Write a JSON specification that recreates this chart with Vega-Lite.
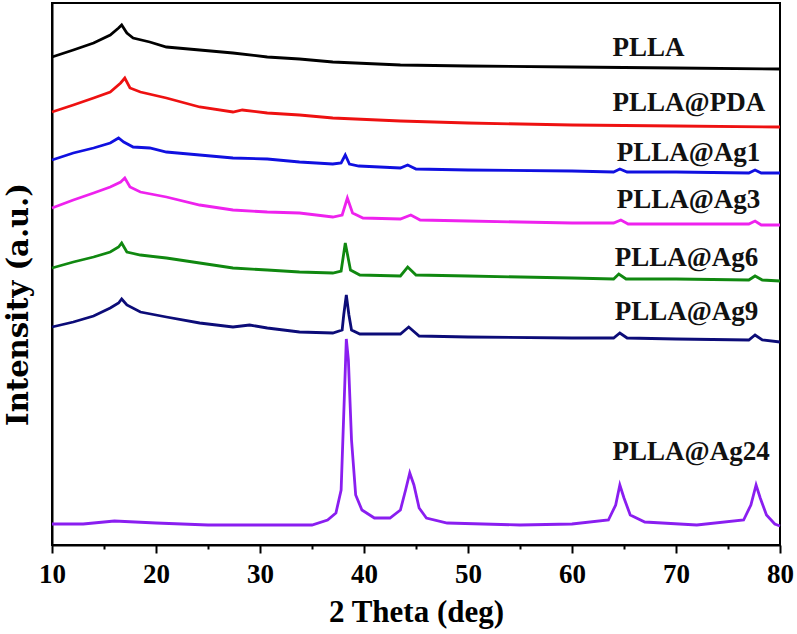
{
  "$schema": "https://vega.github.io/schema/vega-lite/v6.json",
  "width": 728,
  "height": 542,
  "autosize": {"type": "none"},
  "padding": {"left": 52, "top": 3, "right": 17, "bottom": 89},
  "config": {
    "view": {"stroke": "black", "strokeWidth": 2},
    "font": "Liberation Serif",
    "axis": {"grid": false}
  },
  "datasets": {
    "xrd": [
      {"sample": "PLLA", "theta": 10, "intensity": 488},
      {"sample": "PLLA", "theta": 12.05, "intensity": 495},
      {"sample": "PLLA", "theta": 14, "intensity": 502},
      {"sample": "PLLA", "theta": 15.6, "intensity": 510},
      {"sample": "PLLA", "theta": 16.4, "intensity": 517},
      {"sample": "PLLA", "theta": 16.7, "intensity": 520},
      {"sample": "PLLA", "theta": 17.2, "intensity": 512},
      {"sample": "PLLA", "theta": 17.8, "intensity": 507},
      {"sample": "PLLA", "theta": 19.4, "intensity": 503},
      {"sample": "PLLA", "theta": 21, "intensity": 498},
      {"sample": "PLLA", "theta": 24.2, "intensity": 495},
      {"sample": "PLLA", "theta": 27.4, "intensity": 492},
      {"sample": "PLLA", "theta": 30.7, "intensity": 488},
      {"sample": "PLLA", "theta": 33.8, "intensity": 486},
      {"sample": "PLLA", "theta": 37, "intensity": 483},
      {"sample": "PLLA", "theta": 43.5, "intensity": 480},
      {"sample": "PLLA", "theta": 50, "intensity": 479},
      {"sample": "PLLA", "theta": 60, "intensity": 478},
      {"sample": "PLLA", "theta": 70, "intensity": 477},
      {"sample": "PLLA", "theta": 80, "intensity": 476},

      {"sample": "PLLA@PDA", "theta": 10, "intensity": 433},
      {"sample": "PLLA@PDA", "theta": 12.05, "intensity": 440},
      {"sample": "PLLA@PDA", "theta": 14, "intensity": 447},
      {"sample": "PLLA@PDA", "theta": 15.6, "intensity": 453},
      {"sample": "PLLA@PDA", "theta": 16.6, "intensity": 462},
      {"sample": "PLLA@PDA", "theta": 17, "intensity": 467},
      {"sample": "PLLA@PDA", "theta": 17.5, "intensity": 457},
      {"sample": "PLLA@PDA", "theta": 18.5, "intensity": 453},
      {"sample": "PLLA@PDA", "theta": 21, "intensity": 447},
      {"sample": "PLLA@PDA", "theta": 24.2, "intensity": 438},
      {"sample": "PLLA@PDA", "theta": 27.4, "intensity": 433},
      {"sample": "PLLA@PDA", "theta": 28.3, "intensity": 435},
      {"sample": "PLLA@PDA", "theta": 30.7, "intensity": 432},
      {"sample": "PLLA@PDA", "theta": 33.8, "intensity": 430},
      {"sample": "PLLA@PDA", "theta": 37, "intensity": 427},
      {"sample": "PLLA@PDA", "theta": 43.5, "intensity": 424},
      {"sample": "PLLA@PDA", "theta": 50, "intensity": 422},
      {"sample": "PLLA@PDA", "theta": 60, "intensity": 420},
      {"sample": "PLLA@PDA", "theta": 70, "intensity": 419},
      {"sample": "PLLA@PDA", "theta": 80, "intensity": 418},

      {"sample": "PLLA@Ag1", "theta": 10, "intensity": 385},
      {"sample": "PLLA@Ag1", "theta": 12.05, "intensity": 392},
      {"sample": "PLLA@Ag1", "theta": 14, "intensity": 397},
      {"sample": "PLLA@Ag1", "theta": 15.6, "intensity": 402},
      {"sample": "PLLA@Ag1", "theta": 16.4, "intensity": 407},
      {"sample": "PLLA@Ag1", "theta": 16.9, "intensity": 403},
      {"sample": "PLLA@Ag1", "theta": 17.8, "intensity": 398},
      {"sample": "PLLA@Ag1", "theta": 19.4, "intensity": 397},
      {"sample": "PLLA@Ag1", "theta": 21, "intensity": 393},
      {"sample": "PLLA@Ag1", "theta": 24.2, "intensity": 390},
      {"sample": "PLLA@Ag1", "theta": 27.4, "intensity": 387},
      {"sample": "PLLA@Ag1", "theta": 30.7, "intensity": 386},
      {"sample": "PLLA@Ag1", "theta": 33.8, "intensity": 383},
      {"sample": "PLLA@Ag1", "theta": 37, "intensity": 381},
      {"sample": "PLLA@Ag1", "theta": 37.8, "intensity": 382},
      {"sample": "PLLA@Ag1", "theta": 38.2, "intensity": 390},
      {"sample": "PLLA@Ag1", "theta": 38.6, "intensity": 381},
      {"sample": "PLLA@Ag1", "theta": 39.5, "intensity": 379},
      {"sample": "PLLA@Ag1", "theta": 43.5, "intensity": 377},
      {"sample": "PLLA@Ag1", "theta": 44.2, "intensity": 380},
      {"sample": "PLLA@Ag1", "theta": 45, "intensity": 376},
      {"sample": "PLLA@Ag1", "theta": 50, "intensity": 375},
      {"sample": "PLLA@Ag1", "theta": 60, "intensity": 374},
      {"sample": "PLLA@Ag1", "theta": 64, "intensity": 373},
      {"sample": "PLLA@Ag1", "theta": 64.6, "intensity": 376},
      {"sample": "PLLA@Ag1", "theta": 65.3, "intensity": 373},
      {"sample": "PLLA@Ag1", "theta": 70, "intensity": 373},
      {"sample": "PLLA@Ag1", "theta": 77, "intensity": 372},
      {"sample": "PLLA@Ag1", "theta": 77.6, "intensity": 375},
      {"sample": "PLLA@Ag1", "theta": 78.2, "intensity": 372},
      {"sample": "PLLA@Ag1", "theta": 80, "intensity": 372},

      {"sample": "PLLA@Ag3", "theta": 10, "intensity": 337},
      {"sample": "PLLA@Ag3", "theta": 12.05, "intensity": 345},
      {"sample": "PLLA@Ag3", "theta": 14, "intensity": 352},
      {"sample": "PLLA@Ag3", "theta": 15.6, "intensity": 358},
      {"sample": "PLLA@Ag3", "theta": 16.6, "intensity": 363},
      {"sample": "PLLA@Ag3", "theta": 17, "intensity": 367},
      {"sample": "PLLA@Ag3", "theta": 17.5, "intensity": 358},
      {"sample": "PLLA@Ag3", "theta": 18.5, "intensity": 353},
      {"sample": "PLLA@Ag3", "theta": 21, "intensity": 348},
      {"sample": "PLLA@Ag3", "theta": 24.2, "intensity": 340},
      {"sample": "PLLA@Ag3", "theta": 27.4, "intensity": 335},
      {"sample": "PLLA@Ag3", "theta": 30.7, "intensity": 333},
      {"sample": "PLLA@Ag3", "theta": 33.8, "intensity": 332},
      {"sample": "PLLA@Ag3", "theta": 37, "intensity": 328},
      {"sample": "PLLA@Ag3", "theta": 37.9, "intensity": 330},
      {"sample": "PLLA@Ag3", "theta": 38.4, "intensity": 347},
      {"sample": "PLLA@Ag3", "theta": 38.9, "intensity": 332},
      {"sample": "PLLA@Ag3", "theta": 39.9, "intensity": 327},
      {"sample": "PLLA@Ag3", "theta": 43.5, "intensity": 326},
      {"sample": "PLLA@Ag3", "theta": 44.5, "intensity": 330},
      {"sample": "PLLA@Ag3", "theta": 45.4, "intensity": 325},
      {"sample": "PLLA@Ag3", "theta": 50, "intensity": 324},
      {"sample": "PLLA@Ag3", "theta": 55, "intensity": 323},
      {"sample": "PLLA@Ag3", "theta": 60, "intensity": 322},
      {"sample": "PLLA@Ag3", "theta": 64, "intensity": 322},
      {"sample": "PLLA@Ag3", "theta": 64.7, "intensity": 325},
      {"sample": "PLLA@Ag3", "theta": 65.4, "intensity": 321},
      {"sample": "PLLA@Ag3", "theta": 70, "intensity": 321},
      {"sample": "PLLA@Ag3", "theta": 77, "intensity": 321},
      {"sample": "PLLA@Ag3", "theta": 77.6, "intensity": 324},
      {"sample": "PLLA@Ag3", "theta": 78.2, "intensity": 320},
      {"sample": "PLLA@Ag3", "theta": 80, "intensity": 320},

      {"sample": "PLLA@Ag6", "theta": 10, "intensity": 277},
      {"sample": "PLLA@Ag6", "theta": 12.05, "intensity": 283},
      {"sample": "PLLA@Ag6", "theta": 14, "intensity": 288},
      {"sample": "PLLA@Ag6", "theta": 15.6, "intensity": 293},
      {"sample": "PLLA@Ag6", "theta": 16.4, "intensity": 298},
      {"sample": "PLLA@Ag6", "theta": 16.7, "intensity": 302},
      {"sample": "PLLA@Ag6", "theta": 17.2, "intensity": 293},
      {"sample": "PLLA@Ag6", "theta": 18.5, "intensity": 290},
      {"sample": "PLLA@Ag6", "theta": 21, "intensity": 287},
      {"sample": "PLLA@Ag6", "theta": 24.2, "intensity": 282},
      {"sample": "PLLA@Ag6", "theta": 27.4, "intensity": 277},
      {"sample": "PLLA@Ag6", "theta": 30.7, "intensity": 275},
      {"sample": "PLLA@Ag6", "theta": 33.8, "intensity": 273},
      {"sample": "PLLA@Ag6", "theta": 37, "intensity": 272},
      {"sample": "PLLA@Ag6", "theta": 37.8, "intensity": 274},
      {"sample": "PLLA@Ag6", "theta": 38.2, "intensity": 302},
      {"sample": "PLLA@Ag6", "theta": 38.7, "intensity": 275},
      {"sample": "PLLA@Ag6", "theta": 39.6, "intensity": 270},
      {"sample": "PLLA@Ag6", "theta": 43.5, "intensity": 269},
      {"sample": "PLLA@Ag6", "theta": 44.2, "intensity": 278},
      {"sample": "PLLA@Ag6", "theta": 45, "intensity": 270},
      {"sample": "PLLA@Ag6", "theta": 50, "intensity": 269},
      {"sample": "PLLA@Ag6", "theta": 60, "intensity": 267},
      {"sample": "PLLA@Ag6", "theta": 64, "intensity": 266},
      {"sample": "PLLA@Ag6", "theta": 64.5, "intensity": 271},
      {"sample": "PLLA@Ag6", "theta": 65.2, "intensity": 266},
      {"sample": "PLLA@Ag6", "theta": 70, "intensity": 266},
      {"sample": "PLLA@Ag6", "theta": 77, "intensity": 265},
      {"sample": "PLLA@Ag6", "theta": 77.6, "intensity": 269},
      {"sample": "PLLA@Ag6", "theta": 78.3, "intensity": 265},
      {"sample": "PLLA@Ag6", "theta": 80, "intensity": 264},

      {"sample": "PLLA@Ag9", "theta": 10, "intensity": 218},
      {"sample": "PLLA@Ag9", "theta": 12.05, "intensity": 223},
      {"sample": "PLLA@Ag9", "theta": 14, "intensity": 229},
      {"sample": "PLLA@Ag9", "theta": 15.6, "intensity": 237},
      {"sample": "PLLA@Ag9", "theta": 16.4, "intensity": 242},
      {"sample": "PLLA@Ag9", "theta": 16.7, "intensity": 246},
      {"sample": "PLLA@Ag9", "theta": 17.2, "intensity": 240},
      {"sample": "PLLA@Ag9", "theta": 18.5, "intensity": 233},
      {"sample": "PLLA@Ag9", "theta": 21, "intensity": 228},
      {"sample": "PLLA@Ag9", "theta": 24.2, "intensity": 222},
      {"sample": "PLLA@Ag9", "theta": 27.4, "intensity": 218},
      {"sample": "PLLA@Ag9", "theta": 29, "intensity": 220},
      {"sample": "PLLA@Ag9", "theta": 30.7, "intensity": 217},
      {"sample": "PLLA@Ag9", "theta": 33.8, "intensity": 213},
      {"sample": "PLLA@Ag9", "theta": 37, "intensity": 212},
      {"sample": "PLLA@Ag9", "theta": 37.9, "intensity": 215},
      {"sample": "PLLA@Ag9", "theta": 38.05, "intensity": 230},
      {"sample": "PLLA@Ag9", "theta": 38.3, "intensity": 250},
      {"sample": "PLLA@Ag9", "theta": 38.55, "intensity": 230},
      {"sample": "PLLA@Ag9", "theta": 38.8, "intensity": 215},
      {"sample": "PLLA@Ag9", "theta": 39.6, "intensity": 211},
      {"sample": "PLLA@Ag9", "theta": 43.5, "intensity": 211},
      {"sample": "PLLA@Ag9", "theta": 44.3, "intensity": 218},
      {"sample": "PLLA@Ag9", "theta": 45.3, "intensity": 209},
      {"sample": "PLLA@Ag9", "theta": 50, "intensity": 208},
      {"sample": "PLLA@Ag9", "theta": 60, "intensity": 207},
      {"sample": "PLLA@Ag9", "theta": 64, "intensity": 207},
      {"sample": "PLLA@Ag9", "theta": 64.6, "intensity": 212},
      {"sample": "PLLA@Ag9", "theta": 65.3, "intensity": 207},
      {"sample": "PLLA@Ag9", "theta": 70, "intensity": 206},
      {"sample": "PLLA@Ag9", "theta": 77, "intensity": 205},
      {"sample": "PLLA@Ag9", "theta": 77.6, "intensity": 210},
      {"sample": "PLLA@Ag9", "theta": 78.3, "intensity": 205},
      {"sample": "PLLA@Ag9", "theta": 80, "intensity": 203},

      {"sample": "PLLA@Ag24", "theta": 10, "intensity": 21},
      {"sample": "PLLA@Ag24", "theta": 13, "intensity": 21},
      {"sample": "PLLA@Ag24", "theta": 16, "intensity": 24},
      {"sample": "PLLA@Ag24", "theta": 20, "intensity": 22},
      {"sample": "PLLA@Ag24", "theta": 25, "intensity": 20},
      {"sample": "PLLA@Ag24", "theta": 30, "intensity": 20},
      {"sample": "PLLA@Ag24", "theta": 35, "intensity": 20},
      {"sample": "PLLA@Ag24", "theta": 36.5, "intensity": 25},
      {"sample": "PLLA@Ag24", "theta": 37.3, "intensity": 32},
      {"sample": "PLLA@Ag24", "theta": 37.8, "intensity": 55},
      {"sample": "PLLA@Ag24", "theta": 38.1, "intensity": 145},
      {"sample": "PLLA@Ag24", "theta": 38.3, "intensity": 206},
      {"sample": "PLLA@Ag24", "theta": 38.5, "intensity": 185},
      {"sample": "PLLA@Ag24", "theta": 38.8, "intensity": 105},
      {"sample": "PLLA@Ag24", "theta": 39.2, "intensity": 50},
      {"sample": "PLLA@Ag24", "theta": 39.8, "intensity": 35},
      {"sample": "PLLA@Ag24", "theta": 41, "intensity": 27},
      {"sample": "PLLA@Ag24", "theta": 42.5, "intensity": 27},
      {"sample": "PLLA@Ag24", "theta": 43.5, "intensity": 35},
      {"sample": "PLLA@Ag24", "theta": 44, "intensity": 55},
      {"sample": "PLLA@Ag24", "theta": 44.4, "intensity": 72},
      {"sample": "PLLA@Ag24", "theta": 44.8, "intensity": 60},
      {"sample": "PLLA@Ag24", "theta": 45.3, "intensity": 37},
      {"sample": "PLLA@Ag24", "theta": 46, "intensity": 27},
      {"sample": "PLLA@Ag24", "theta": 48, "intensity": 22},
      {"sample": "PLLA@Ag24", "theta": 55, "intensity": 20},
      {"sample": "PLLA@Ag24", "theta": 60, "intensity": 21},
      {"sample": "PLLA@Ag24", "theta": 63.5, "intensity": 25},
      {"sample": "PLLA@Ag24", "theta": 64.2, "intensity": 40},
      {"sample": "PLLA@Ag24", "theta": 64.6, "intensity": 60},
      {"sample": "PLLA@Ag24", "theta": 65, "intensity": 47},
      {"sample": "PLLA@Ag24", "theta": 65.6, "intensity": 30},
      {"sample": "PLLA@Ag24", "theta": 67, "intensity": 23},
      {"sample": "PLLA@Ag24", "theta": 72, "intensity": 20},
      {"sample": "PLLA@Ag24", "theta": 76.5, "intensity": 25},
      {"sample": "PLLA@Ag24", "theta": 77.2, "intensity": 40},
      {"sample": "PLLA@Ag24", "theta": 77.7, "intensity": 60},
      {"sample": "PLLA@Ag24", "theta": 78.1, "intensity": 47},
      {"sample": "PLLA@Ag24", "theta": 78.7, "intensity": 30},
      {"sample": "PLLA@Ag24", "theta": 79.5, "intensity": 21},
      {"sample": "PLLA@Ag24", "theta": 80, "intensity": 19}
    ],
    "labels": [
      {"sample": "PLLA", "theta": 63.9, "intensity": 497},
      {"sample": "PLLA@PDA", "theta": 63.9, "intensity": 442},
      {"sample": "PLLA@Ag1", "theta": 64.3, "intensity": 392},
      {"sample": "PLLA@Ag3", "theta": 64.3, "intensity": 345},
      {"sample": "PLLA@Ag6", "theta": 64.1, "intensity": 287},
      {"sample": "PLLA@Ag9", "theta": 64.1, "intensity": 233},
      {"sample": "PLLA@Ag24", "theta": 63.9, "intensity": 93}
    ]
  },
  "layer": [
    {
      "data": {"name": "xrd"},
      "mark": {"type": "line", "strokeWidth": 2.8},
      "encoding": {
        "x": {
          "field": "theta",
          "type": "quantitative",
          "scale": {"domain": [10, 80], "nice": false},
          "axis": {
            "values": [10, 15, 20, 25, 30, 35, 40, 45, 50, 55, 60, 65, 70, 75, 80],
            "labelExpr": "datum.value % 10 === 0 ? datum.label : ''",
            "tickSize": {"condition": {"test": "datum.value % 10 === 0", "value": 8}, "value": 4},
            "tickWidth": 2,
            "tickColor": "black",
            "domainColor": "black",
            "domainWidth": 2,
            "labelFlush": false,
            "labelFont": "Liberation Serif",
            "labelFontSize": 27,
            "labelFontWeight": "bold",
            "labelColor": "black",
            "labelPadding": 8,
            "title": "2 Theta (deg)",
            "titleFont": "Liberation Serif",
            "titleFontSize": 31,
            "titleFontWeight": "bold",
            "titleColor": "black",
            "titlePadding": 10
          }
        },
        "y": {
          "field": "intensity",
          "type": "quantitative",
          "scale": {"domain": [0, 542], "nice": false},
          "axis": {
            "title": "Intensity (a.u.)",
            "labels": false,
            "ticks": false,
            "domainColor": "black",
            "domainWidth": 2,
            "titleFont": "DejaVu Serif",
            "titleFontSize": 29,
            "titleFontWeight": "bold",
            "titleColor": "black",
            "titlePadding": 19,
            "titleY": 301
          }
        },
        "color": {
          "field": "sample",
          "type": "nominal",
          "scale": {
            "domain": ["PLLA", "PLLA@PDA", "PLLA@Ag1", "PLLA@Ag3", "PLLA@Ag6", "PLLA@Ag9", "PLLA@Ag24"],
            "range": ["#000000", "#ee1111", "#1010e0", "#ee22ee", "#108810", "#0c0c78", "#8a1ef0"]
          },
          "legend": null
        }
      }
    },
    {
      "data": {"name": "labels"},
      "mark": {
        "type": "text",
        "align": "left",
        "baseline": "middle",
        "font": "Liberation Serif",
        "fontSize": 27,
        "fontWeight": "bold",
        "color": "#111111"
      },
      "encoding": {
        "x": {"field": "theta", "type": "quantitative"},
        "y": {"field": "intensity", "type": "quantitative"},
        "text": {"field": "sample"}
      }
    }
  ]
}
